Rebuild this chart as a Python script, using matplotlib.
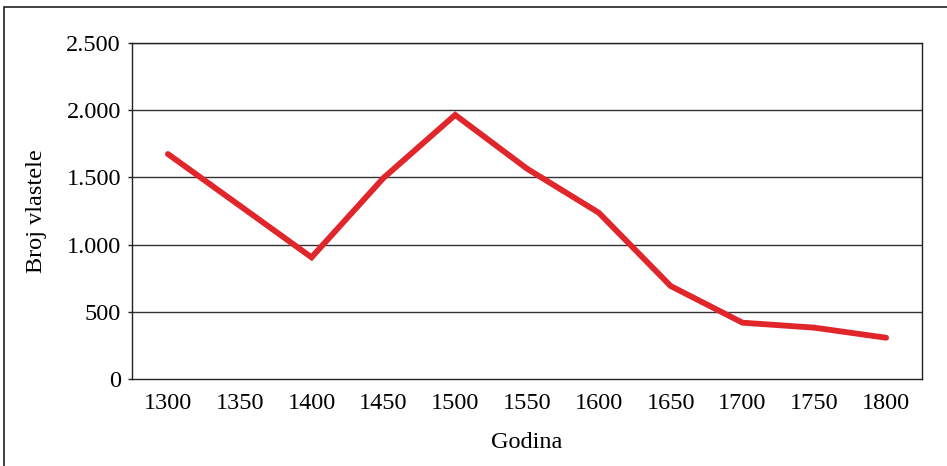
import numpy as np
import matplotlib
matplotlib.use("Agg")
import matplotlib.pyplot as plt
from matplotlib.patches import Rectangle

# data
years = ["1300", "1350", "1400", "1450", "1500", "1550",
         "1600", "1650", "1700", "1750", "1800"]
nobles = [1674, 1290, 905, 1495, 1965, 1565, 1237, 692, 419, 382, 307]
yticks = [0, 500, 1000, 1500, 2000, 2500]
ytick_labels = ["0", "500", "1.000", "1.500", "2.000", "2.500"]

plt.rcParams["font.family"] = ["Liberation Serif", "DejaVu Serif"]

fig = plt.figure(figsize=(9.47, 4.66), dpi=100)
ax = fig.add_axes([132/947, 87/466, 790/947, 336/466])

# outer frame (cropped on right and bottom in the original)
fig.patches.append(Rectangle((4/947, -0.2), 1.5, (459/466) + 0.2,
                             transform=fig.transFigure, fill=False,
                             ec="#222222", lw=1.2))

x = np.arange(len(years))
ax.plot(x, nobles, color="#e0252b", lw=4.2, solid_capstyle="round",
        solid_joinstyle="miter", zorder=3)

ax.set_xlim(-0.5, len(years) - 0.5)
ax.set_ylim(0, 2500)
ax.set_xticks(x)
ax.set_xticklabels(years)
ax.set_yticks(yticks)
ax.set_yticklabels(ytick_labels)

for y in yticks[1:]:
    ax.axhline(y, color="#333333", lw=1.0, zorder=1)

for s in ax.spines.values():
    s.set_color("#222222")
    s.set_linewidth(1.0)

ax.tick_params(axis="x", length=0, pad=10, labelsize=17.5)
ax.tick_params(axis="y", length=3, width=1, pad=5, labelsize=17.5,
               color="#222222")

ax.set_xlabel("Godina", fontsize=17.5, labelpad=13)
ax.set_ylabel("Broj vlastele", fontsize=17.5, labelpad=14)

fig.savefig("out.png", dpi=100)
